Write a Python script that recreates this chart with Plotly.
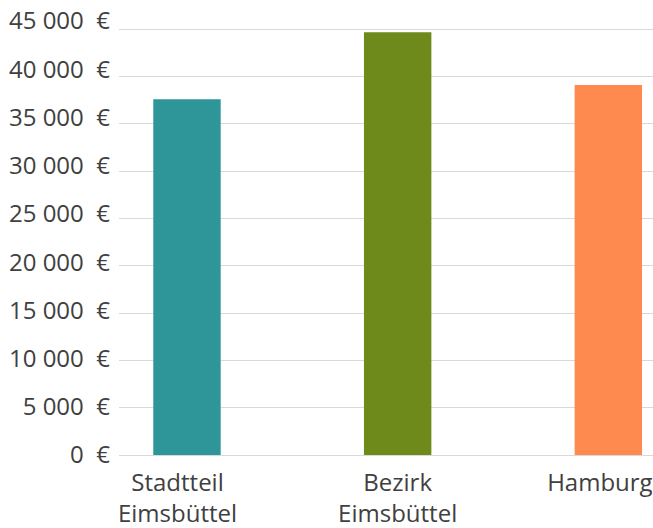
import plotly.graph_objects as go

# Durchschnittliches Einkommen je Gebiet (in Euro)
categories = ["Stadtteil Eimsbüttel", "Bezirk Eimsbüttel", "Hamburg"]
values = [37600, 44700, 39100]
colors = ["#2E9599", "#6E8A1A", "#FF8A4F"]

# Achsenbeschriftungen
x_labels = ["Stadtteil<br>Eimsbüttel", "Bezirk<br>Eimsbüttel", "Hamburg"]
y_ticks = [0, 5000, 10000, 15000, 20000, 25000, 30000, 35000, 40000, 45000]
y_labels = ["0\u00a0\u00a0€", "5\u00a0000\u00a0\u00a0€", "10\u00a0000\u00a0\u00a0€",
            "15\u00a0000\u00a0\u00a0€", "20\u00a0000\u00a0\u00a0€", "25\u00a0000\u00a0\u00a0€",
            "30\u00a0000\u00a0\u00a0€", "35\u00a0000\u00a0\u00a0€", "40\u00a0000\u00a0\u00a0€",
            "45\u00a0000\u00a0\u00a0€"]

# Versatz der Kategoriebeschriftungen gegenüber der Balkenmitte (in Kategoriebreiten)
label_offsets = [-0.045, 0.0, -0.04]

FONT = dict(family="Open Sans, Noto Sans, sans-serif", size=24, color="#404040")
GRID = "#d9d9d9"
X_RANGE = [-0.3227, 2.212]

fig = go.Figure()
fig.add_trace(go.Bar(
    x=list(range(len(categories))),
    y=values,
    width=0.32,
    marker=dict(color=colors, line=dict(width=0)),
    hovertext=categories,
    showlegend=False,
))
# leere Spur, damit die Beschriftungsachsen gezeichnet werden
fig.add_trace(go.Scatter(x=[None], y=[None], xaxis="x2", yaxis="y2", mode="markers",
                         showlegend=False, hoverinfo="skip"))

fig.update_layout(
    width=653, height=528,
    margin=dict(l=119, r=0, t=10, b=73, autoexpand=False),
    paper_bgcolor="white",
    plot_bgcolor="white",
    font=FONT,
    xaxis=dict(
        range=X_RANGE,
        showticklabels=False,
        showgrid=False,
        zeroline=False,
        showline=False,
        ticks="",
        automargin=False,
        fixedrange=True,
    ),
    # Beschriftungsachse für die Kategorien
    xaxis2=dict(
        overlaying="x",
        anchor="y",
        side="bottom",
        range=X_RANGE,
        tickmode="array",
        tickvals=[i + d for i, d in enumerate(label_offsets)],
        ticktext=x_labels,
        showgrid=False,
        zeroline=False,
        showline=False,
        ticks="",
        ticklabelstandoff=11,
        ticklabeloverflow="allow",
        automargin=False,
        tickfont=FONT,
        fixedrange=True,
    ),
    yaxis=dict(
        range=[0, 47040],
        tickmode="array",
        tickvals=y_ticks,
        showticklabels=False,
        showgrid=True,
        gridcolor=GRID,
        gridwidth=1,
        zeroline=True,
        zerolinecolor=GRID,
        zerolinewidth=1,
        showline=False,
        ticks="",
        automargin=False,
    ),
    # Beschriftungsachse für die Euro-Werte
    yaxis2=dict(
        overlaying="y",
        anchor="x",
        side="left",
        range=[0, 46140],
        tickmode="array",
        tickvals=y_ticks,
        ticktext=y_labels,
        showgrid=False,
        zeroline=False,
        showline=False,
        ticks="",
        ticklabelstandoff=8,
        ticklabeloverflow="allow",
        automargin=False,
        tickfont=FONT,
    ),
)

fig.write_html("out.html")
